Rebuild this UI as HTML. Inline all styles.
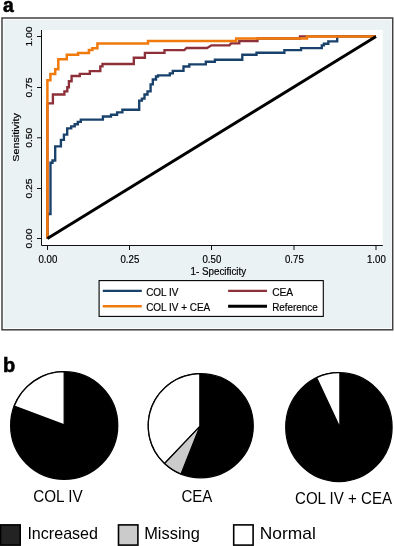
<!DOCTYPE html>
<html lang="en"><head><meta charset="utf-8"><title>Figure</title>
<style>html,body{margin:0;padding:0;background:#fff}svg{display:block;will-change:transform}text{font-family:"Liberation Sans",Arial,Helvetica,sans-serif;fill:#000}.c text{stroke:#000;stroke-width:0.18px}</style>
</head><body>
<svg width="394" height="546" viewBox="0 0 394 546">
<rect x="0" y="0" width="394" height="546" fill="#fff"/>
<text x="3.1" y="11.5" font-size="19.3" font-weight="bold" fill="#000" stroke="#000" stroke-width="0.55">a</text>
<text x="2.9" y="371.8" font-size="20" font-weight="bold" fill="#000" stroke="#000" stroke-width="0.55">b</text>
<rect x="2" y="18" width="390.7" height="311.8" fill="#fff" stroke="#404040" stroke-width="1.5"/>
<rect x="3.6" y="19.7" width="387.4" height="308.4" fill="#eaf2f3"/>
<rect x="41.5" y="30" width="341.3" height="215.5" fill="#fff"/>
<g class="c">
<path d="M41.5,30 V245.5 H382.8" fill="none" stroke="#111" stroke-width="1"/>
<path d="M37,238.5 H41.5 M47.5,245.5 V250 M37,188.5 H41.5 M129.5,245.5 V250 M37,137.8 H41.5 M211.5,245.5 V250 M37,87.5 H41.5 M294,245.5 V250 M37,36.5 H41.5 M376,245.5 V250" fill="none" stroke="#111" stroke-width="1"/>
<text x="47.9" y="263.3" font-size="10.0" text-anchor="middle" textLength="18.8" lengthAdjust="spacingAndGlyphs">0.00</text>
<text transform="translate(32.2,238.5) rotate(-90)" font-size="9.5" text-anchor="middle" textLength="20" lengthAdjust="spacingAndGlyphs">0.00</text>
<text x="129.9" y="263.3" font-size="10.0" text-anchor="middle" textLength="18.8" lengthAdjust="spacingAndGlyphs">0.25</text>
<text transform="translate(32.2,188.5) rotate(-90)" font-size="9.5" text-anchor="middle" textLength="20" lengthAdjust="spacingAndGlyphs">0.25</text>
<text x="211.9" y="263.3" font-size="10.0" text-anchor="middle" textLength="18.8" lengthAdjust="spacingAndGlyphs">0.50</text>
<text transform="translate(32.2,137.8) rotate(-90)" font-size="9.5" text-anchor="middle" textLength="20" lengthAdjust="spacingAndGlyphs">0.50</text>
<text x="294.4" y="263.3" font-size="10.0" text-anchor="middle" textLength="18.8" lengthAdjust="spacingAndGlyphs">0.75</text>
<text transform="translate(32.2,87.5) rotate(-90)" font-size="9.5" text-anchor="middle" textLength="20" lengthAdjust="spacingAndGlyphs">0.75</text>
<text x="376.4" y="263.3" font-size="10.0" text-anchor="middle" textLength="18.8" lengthAdjust="spacingAndGlyphs">1.00</text>
<text transform="translate(32.2,36.5) rotate(-90)" font-size="9.5" text-anchor="middle" textLength="20" lengthAdjust="spacingAndGlyphs">1.00</text>
<text x="218.3" y="274.9" font-size="10.0" text-anchor="middle" textLength="55.6" lengthAdjust="spacingAndGlyphs">1- Specificity</text>
<text transform="translate(19.4,137.5) rotate(-90)" font-size="9.9" text-anchor="middle" textLength="48.6" lengthAdjust="spacingAndGlyphs">Sensitivity</text>
<path d="M47.4,238.4 V214 H50.5 V162.7 H52.5 V160.5 H55.2 V146.4 H60.9 V139.8 H63.9 V134.6 H67.2 V128.4 H71.2 V126.4 H74.7 V124.2 H77.8 V121.9 H80.8 V119.6 H102.9 V116.5 H111 V114.7 H117.1 V112.3 H122.4 V109.7 H139.2 V100.6 H141.9 V98.6 H144.5 V94.5 H147.5 V91.4 H150.6 V84.3 H152.8 V79.5 H156 V76.5 H158 V75.4 H169.8 V73.4 H172.8 V70.8 H183.5 V66.5 H189.3 V64.3 H205.8 V61.7 H214.9 V59.7 H242.3 V54.7 H256.5 V52.7 H284.4 V50.1 H301.1 V48.1 H321.8 V45.4 H323.9 V43.7 H328.3 V41.3 H337.2 V36.4 H376" fill="none" stroke="#18416c" stroke-width="2.35" stroke-linejoin="miter"/>
<path d="M47.4,238.4 V103.3 H52.9 V94.5 H64.4 V91.4 H67.3 V87.2 H68.9 V81.2 H71.6 V76 H79.8 V73.8 H89.8 V71.1 H100.3 V66.3 H102.5 V64 H133.8 V57.7 H144.9 V52.8 H164.5 V50.1 H184.3 L186.5,48 H207 L211.5,45.3 H229.4 L231,43.4 H239.3 V41 H257.5 V38.5 H300 V36.4 H376" fill="none" stroke="#8e3039" stroke-width="2.35" stroke-linejoin="miter"/>
<path d="M47.4,238.4 V80.3 H50.4 V73.9 H55.2 V69.3 H58.3 V59.3 H66.8 V54.7 H78.1 V52.9 H88.9 V50 H92.4 V48.3 H97.4 V43.5 H148 V41 H236.2 V38.5 H307 V36.4 H376" fill="none" stroke="#f07b0c" stroke-width="2.5" stroke-linejoin="miter"/>
<path d="M47.4,238.5 L376.0,36.5" fill="none" stroke="#000" stroke-width="2.9" stroke-linecap="butt"/>
<rect x="99.1" y="280.6" width="224.2" height="35.8" fill="#fff" stroke="#000" stroke-width="1.1"/>
<path d="M102.8,290.8 H141.8" stroke="#18416c" stroke-width="2.35"/>
<path d="M102.8,306.2 H141.8" stroke="#f07b0c" stroke-width="2.5"/>
<path d="M228.1,290.8 H267" stroke="#8e3039" stroke-width="2.35"/>
<path d="M228.1,306.2 H267" stroke="#000" stroke-width="2.9"/>
<text x="146.2" y="295.8" font-size="10.0" textLength="32.2" lengthAdjust="spacingAndGlyphs">COL IV</text>
<text x="146.2" y="310.9" font-size="10.0" textLength="64" lengthAdjust="spacingAndGlyphs">COL IV + CEA</text>
<text x="272.2" y="295.8" font-size="10.0" textLength="21" lengthAdjust="spacingAndGlyphs">CEA</text>
<text x="272.2" y="310.9" font-size="10.0" textLength="45.6" lengthAdjust="spacingAndGlyphs">Reference</text>
</g>
<ellipse cx="64.2" cy="425.5" rx="53.575" ry="53.775" fill="#000" stroke="#000" stroke-width="1.25"/>
<path d="M64.2,424.8 L14.23,406.12 A53.575,53.775 0 0 1 64.20,371.73 Z" fill="#fff" stroke="#000" stroke-width="1.25" stroke-linejoin="miter"/>
<ellipse cx="200.75" cy="425.7" rx="52.525" ry="52.075" fill="#000" stroke="#000" stroke-width="1.25"/>
<path d="M199.85,426.4 L164.57,463.45 A52.525,52.075 0 0 1 199.85,373.63 Z" fill="#fff" stroke="#000" stroke-width="1.25" stroke-linejoin="miter"/>
<path d="M199.85,426.4 L181.02,473.96 A52.525,52.075 0 0 1 164.57,463.45 Z" fill="#cbcbcb" stroke="#000" stroke-width="1.25" stroke-linejoin="miter"/>
<ellipse cx="338.9" cy="427.15" rx="53.175" ry="54.425" fill="#000" stroke="#000" stroke-width="1.25"/>
<path d="M339.9,427.6 L316.64,377.72 A53.175,54.425 0 0 1 339.90,372.73 Z" fill="#fff" stroke="#000" stroke-width="1.25" stroke-linejoin="miter"/>
<text x="33.2" y="501.6" font-size="16.6" fill="#000" textLength="49.4" lengthAdjust="spacingAndGlyphs">COL IV</text>
<text x="181.4" y="502" font-size="16.6" fill="#000" textLength="31" lengthAdjust="spacingAndGlyphs">CEA</text>
<text x="295" y="504" font-size="16.6" fill="#000" textLength="97" lengthAdjust="spacingAndGlyphs">COL IV + CEA</text>
<rect x="0.6" y="524.9" width="19.6" height="20.2" fill="#232323" stroke="#000" stroke-width="1.6"/>
<rect x="118.5" y="524.9" width="19.4" height="20.2" fill="#cbcbcb" stroke="#000" stroke-width="1.6"/>
<rect x="233.7" y="524.9" width="19.4" height="20.2" fill="#fff" stroke="#000" stroke-width="1.6"/>
<text x="27.4" y="539.2" font-size="16.6" fill="#000" textLength="70.6" lengthAdjust="spacingAndGlyphs">Increased</text>
<text x="144.2" y="539.2" font-size="16.6" fill="#000" textLength="55.6" lengthAdjust="spacingAndGlyphs">Missing</text>
<text x="259.8" y="539.2" font-size="16.6" fill="#000" textLength="56" lengthAdjust="spacingAndGlyphs">Normal</text>
</svg>
</body></html>
